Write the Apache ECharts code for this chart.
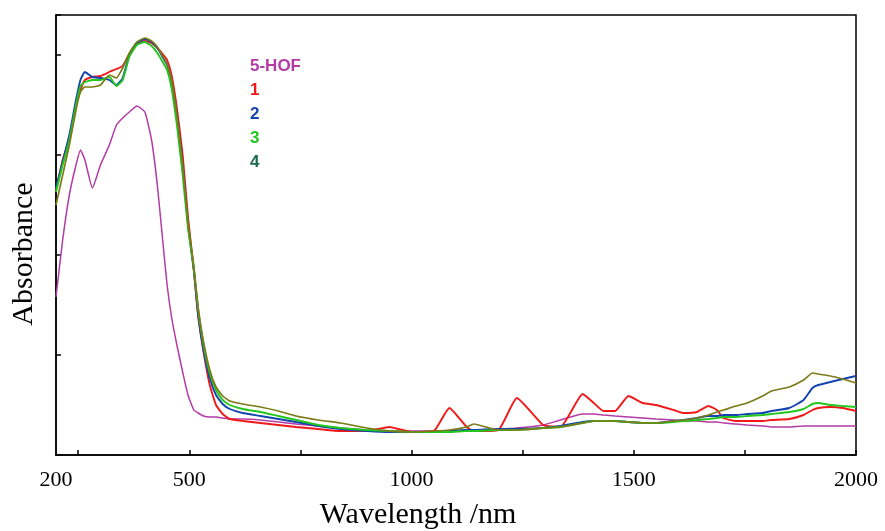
<!DOCTYPE html>
<html><head><meta charset="utf-8">
<script src="https://cdn.jsdelivr.net/npm/echarts@6/dist/echarts.min.js"></script>
<style>html,body{margin:0;padding:0;background:#fff}#c{width:885px;height:531px}</style>
</head><body><div id="c"></div>
<script>
const wavelengths = [200,215,230,245,255,265,282,300,320,336,350,365,382,400,415,428,440,450,460,472,485,497,510,520,532,546,560,575,591,620,660,700,740,790,840,900,950,1000,1050,1085,1124,1140,1195,1237,1296,1335,1385,1410,1432,1458,1488,1520,1550,1590,1612,1642,1668,1687,1702,1730,1755,1790,1810,1850,1882,1902,1915,1942,1970,2000];
const hof = [1.58,2.15,2.60,2.90,3.05,2.95,2.67,2.90,3.10,3.30,3.37,3.43,3.49,3.43,3.15,2.70,2.15,1.70,1.38,1.10,0.83,0.60,0.45,0.42,0.39,0.38,0.38,0.37,0.36,0.36,0.35,0.33,0.31,0.29,0.27,0.25,0.24,0.24,0.24,0.24,0.25,0.25,0.26,0.27,0.30,0.35,0.41,0.41,0.40,0.39,0.38,0.37,0.36,0.35,0.34,0.34,0.33,0.33,0.32,0.31,0.30,0.29,0.28,0.28,0.29,0.29,0.29,0.29,0.29,0.29];
const s1 = [2.65,2.95,3.17,3.50,3.65,3.75,3.78,3.79,3.83,3.86,3.89,4.01,4.11,4.14,4.12,4.07,4.01,3.95,3.80,3.47,3.00,2.38,1.85,1.38,1.03,0.70,0.50,0.41,0.36,0.34,0.32,0.30,0.28,0.26,0.24,0.24,0.28,0.23,0.24,0.47,0.28,0.24,0.25,0.57,0.30,0.28,0.61,0.52,0.44,0.44,0.59,0.52,0.50,0.45,0.42,0.43,0.49,0.45,0.37,0.34,0.34,0.34,0.35,0.36,0.40,0.45,0.47,0.48,0.47,0.44];
const s2 = [2.67,2.93,3.20,3.55,3.75,3.83,3.78,3.77,3.75,3.70,3.77,4.00,4.12,4.16,4.13,4.07,3.98,3.90,3.73,3.40,2.90,2.30,1.85,1.40,1.05,0.77,0.60,0.51,0.46,0.42,0.39,0.36,0.33,0.29,0.26,0.24,0.23,0.23,0.23,0.24,0.25,0.25,0.26,0.26,0.27,0.29,0.33,0.34,0.34,0.34,0.33,0.32,0.32,0.34,0.35,0.37,0.39,0.39,0.40,0.40,0.41,0.42,0.44,0.47,0.55,0.67,0.70,0.73,0.76,0.79];
const s3 = [2.63,2.90,3.15,3.50,3.69,3.73,3.75,3.75,3.78,3.69,3.75,3.98,4.10,4.13,4.09,4.02,3.93,3.85,3.67,3.30,2.80,2.27,1.87,1.45,1.10,0.82,0.65,0.55,0.50,0.46,0.43,0.39,0.35,0.30,0.27,0.25,0.24,0.23,0.23,0.23,0.24,0.24,0.25,0.25,0.27,0.28,0.32,0.34,0.34,0.34,0.33,0.32,0.32,0.33,0.34,0.35,0.36,0.37,0.38,0.38,0.39,0.40,0.41,0.43,0.46,0.51,0.52,0.50,0.49,0.48];
const s4 = [2.50,2.80,3.10,3.45,3.63,3.68,3.68,3.70,3.80,3.77,3.87,4.02,4.13,4.17,4.14,4.08,3.99,3.91,3.75,3.40,2.90,2.33,1.89,1.47,1.13,0.85,0.68,0.59,0.54,0.51,0.48,0.44,0.39,0.35,0.32,0.27,0.24,0.23,0.24,0.25,0.28,0.31,0.25,0.25,0.27,0.28,0.32,0.34,0.34,0.34,0.33,0.32,0.32,0.34,0.35,0.37,0.40,0.43,0.45,0.49,0.52,0.59,0.64,0.68,0.75,0.82,0.81,0.79,0.76,0.72];
const seriesNames = ['5-HOF','1','2','3','4'];
const xLabelValues = [200,500,1000,1500,2000];
const xTickValues = [250,500,750,1000,1250,1500,1750,2000];
const xTitle = 'Wavelength /nm';
const yTitle = 'Absorbance';

const lineColors = ['#b43aa6','#f01818','#1444b0','#22c61e','#7b7b18'];
const textColors = ['#b43aa6','#f01818','#1444b0','#22c61e','#1b6a4e'];
const widths = [1.5,1.9,1.9,1.9,1.7];
const allData = [hof,s1,s2,s3,s4];

const chart = echarts.init(document.getElementById('c'), null, {renderer:'canvas'});
const serif = '"Liberation Serif","Times New Roman",serif';
chart.setOption({
  animation:false,
  grid:{left:56,right:29,top:15,bottom:76,outerBoundsMode:'none',containLabel:false,show:true,borderColor:'#000',borderWidth:1.5,backgroundColor:'transparent'},
  legend:{
    orient:'vertical', left:240, top:53, icon:'none', itemWidth:0, itemHeight:16, itemGap:7,
    textStyle:{fontFamily:'"Liberation Sans",Arial,sans-serif',fontWeight:'bold',fontSize:17},
    data: seriesNames.map((n,i)=>({name:n,textStyle:{color:textColors[i]}}))
  },
  graphic:[
    {type:'text', x:24, y:254, rotation:Math.PI/2,
     style:{text:yTitle, fontFamily:serif, fontSize:30, fill:'#000', align:'center', verticalAlign:'middle'}},
    {type:'text', x:418, y:515,
     style:{text:xTitle, fontFamily:serif, fontSize:30, fill:'#000', align:'center', verticalAlign:'middle'}}
  ],
  xAxis:{
    type:'value', min:200, max:2000,
    axisLine:{show:true,onZero:false,lineStyle:{color:'#000',width:1.5}},
    axisTick:{show:true,inside:true,length:5,customValues:xTickValues,lineStyle:{color:'#000',width:1.5}},
    axisLabel:{customValues:xLabelValues,formatter:v=>String(v),fontFamily:serif,fontSize:22,color:'#000',margin:14},
    splitLine:{show:false}
  },
  yAxis:{
    type:'value', min:0, max:4.4, interval:1,
    axisLine:{show:true,lineStyle:{color:'#000',width:1.5}},
    axisTick:{show:true,inside:true,length:5,lineStyle:{color:'#000',width:1.5}},
    axisLabel:{show:false},
    splitLine:{show:false}
  },
  series: allData.map((d,i)=>({
    name:seriesNames[i], type:'line', showSymbol:false, smooth:0.15,
    z: i===0?2:3+i,
    lineStyle:{color:lineColors[i],width:widths[i]},
    itemStyle:{color:lineColors[i]},
    data: wavelengths.map((w,k)=>[w,d[k]])
  }))
});
</script></body></html>
